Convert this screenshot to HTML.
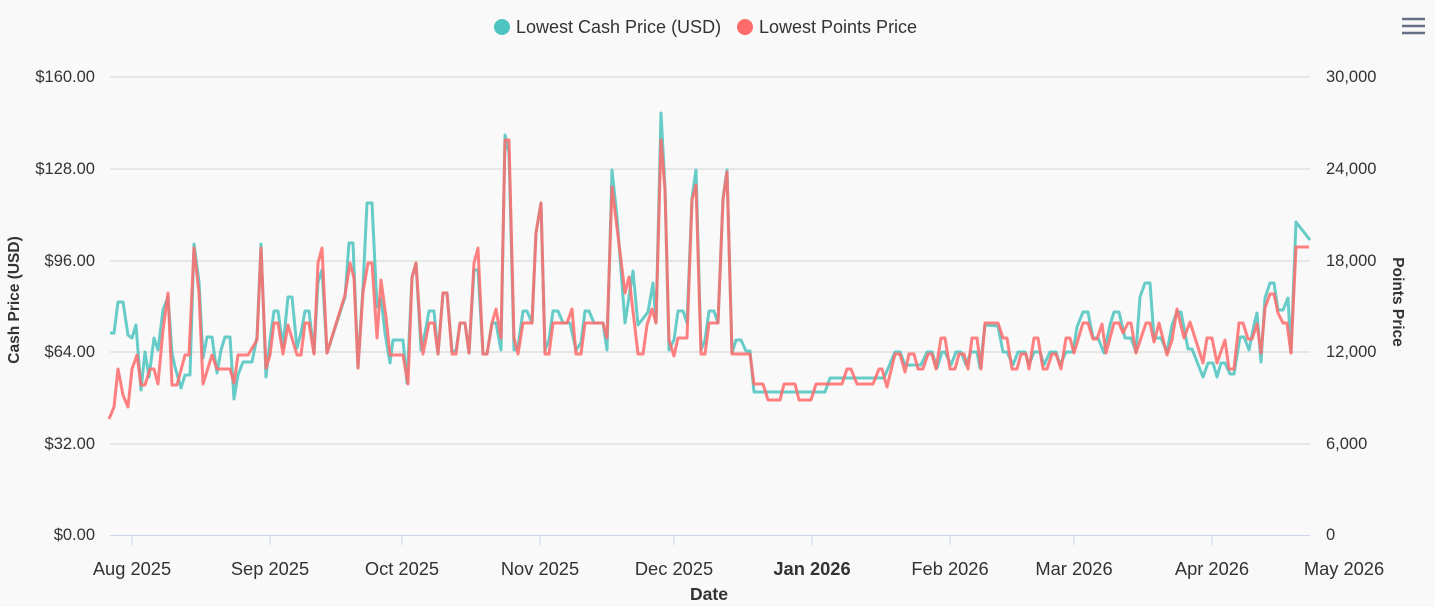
<!DOCTYPE html>
<html><head><meta charset="utf-8"><style>
html,body{margin:0;padding:0;background:#f9f9f9;}
svg{display:block;font-family:"Liberation Sans",sans-serif;}
</style></head><body>
<svg width="1435" height="607" viewBox="0 0 1435 607">
<rect width="1435" height="607" fill="#f9f9f9"/>
<g stroke="#e0e0e0" stroke-width="1.5">
<line x1="110" x2="1310" y1="77" y2="77"/><line x1="110" x2="1310" y1="169" y2="169"/>
<line x1="110" x2="1310" y1="261" y2="261"/><line x1="110" x2="1310" y1="352" y2="352"/>
<line x1="110" x2="1310" y1="444" y2="444"/>
</g>
<line x1="110" x2="1310" y1="535.5" y2="535.5" stroke="#ccd6eb" stroke-width="1"/>
<g stroke="#ccd6eb" stroke-width="1">
<line x1="132" x2="132" y1="535" y2="545"/><line x1="270" x2="270" y1="535" y2="545"/><line x1="402" x2="402" y1="535" y2="545"/><line x1="540" x2="540" y1="535" y2="545"/><line x1="674" x2="674" y1="535" y2="545"/><line x1="812" x2="812" y1="535" y2="545"/><line x1="950" x2="950" y1="535" y2="545"/><line x1="1074" x2="1074" y1="535" y2="545"/><line x1="1212" x2="1212" y1="535" y2="545"/>
</g>
<g font-size="16.5" fill="#333" text-anchor="end">
<text x="95" y="82">$160.00</text><text x="95" y="174">$128.00</text><text x="95" y="266">$96.00</text><text x="95" y="357">$64.00</text><text x="95" y="449">$32.00</text><text x="95" y="540">$0.00</text>
</g>
<g font-size="16.5" fill="#333" text-anchor="start">
<text x="1326" y="82">30,000</text><text x="1326" y="174">24,000</text><text x="1326" y="266">18,000</text><text x="1326" y="357">12,000</text><text x="1326" y="449">6,000</text><text x="1326" y="540">0</text>
</g>
<g font-size="18.3" fill="#333" text-anchor="middle">
<text x="132" y="575">Aug 2025</text><text x="270" y="575">Sep 2025</text><text x="402" y="575">Oct 2025</text><text x="540" y="575">Nov 2025</text><text x="674" y="575">Dec 2025</text><text x="812" y="575" font-weight="bold">Jan 2026</text><text x="950" y="575">Feb 2026</text><text x="1074" y="575">Mar 2026</text><text x="1212" y="575">Apr 2026</text><text x="1344" y="575">May 2026</text>
</g>
<text x="709" y="600" font-size="17.5" font-weight="bold" fill="#333" text-anchor="middle">Date</text>
<text transform="translate(19,300) rotate(-90)" font-size="15.5" font-weight="bold" fill="#333" text-anchor="middle">Cash Price (USD)</text>
<text transform="translate(1393,302) rotate(90)" font-size="15.5" font-weight="bold" fill="#333" text-anchor="middle">Points Price</text>
<circle cx="502" cy="27" r="8" fill="#4ec4c0"/>
<text x="516" y="33" font-size="18" fill="#333">Lowest Cash Price (USD)</text>
<circle cx="745" cy="27" r="8" fill="#ff6b6b"/>
<text x="759" y="33" font-size="18" fill="#333">Lowest Points Price</text>
<g stroke="#667085" stroke-width="2.5"><line x1="1402" x2="1425" y1="19" y2="19"/><line x1="1402" x2="1425" y1="26" y2="26"/><line x1="1402" x2="1425" y1="33" y2="33"/></g>
<polyline fill="none" stroke="#4ec4c0" stroke-opacity="0.85" stroke-width="3" stroke-linejoin="round" points="110,333 114,333 118,302 123,302 128,335 132,338 136,325 141,390 145,352 149,377 154,338 158,350 163,310 168,297 172,353 175,367 181,388 185,375 190,375 194,244 199,282 203,358 207,337 212,337 217,373 221,350 225,337 230,337 234,399 238,375 243,362 252,362 257,337 261,244 266,377 270,340 274,311 278,311 283,347 288,297 292,297 297,348 301,333 305,311 309,311 314,353 318,282 322,270 327,353 345,297 349,243 353,243 358,367 363,287 367,203 372,203 377,307 381,298 385,333 390,363 393,340 403,340 407,383 412,277 416,263 421,350 425,333 429,311 434,311 438,354 443,293 447,293 452,351 456,351 460,323 465,323 469,353 474,270 478,270 483,354 487,354 492,323 496,323 501,350 505,135 509,153 514,350 518,347 523,311 527,311 532,323 536,233 541,203 545,350 549,340 553,311 558,311 563,323 570,323 576,350 581,343 585,311 589,311 594,323 603,323 607,350 612,170 617,217 625,323 633,271 638,325 648,312 653,283 656,323 661,113 665,187 669,350 674,340 678,311 683,311 687,323 692,198 696,170 701,350 705,340 709,311 714,311 718,323 723,198 727,170 732,353 736,340 741,340 746,351 750,351 754,392 825,392 830,378 884,378 895,352 900,352 905,365 921,365 927,352 932,352 937,368 942,352 945,352 951,365 956,352 961,352 966,365 971,352 977,352 980,368 985,325 998,326 1003,352 1007,352 1013,365 1018,352 1025,352 1029,365 1034,352 1040,352 1044,365 1050,352 1056,352 1060,365 1066,352 1073,352 1077,327 1083,312 1088,312 1093,338 1098,338 1104,353 1110,325 1114,312 1119,312 1125,338 1131,338 1136,352 1140,297 1145,283 1150,283 1154,338 1161,338 1167,352 1172,325 1177,312 1181,312 1188,349 1192,349 1203,377 1208,363 1213,363 1217,377 1221,363 1225,363 1230,374 1234,374 1240,337 1244,337 1249,350 1254,325 1257,313 1261,362 1265,298 1270,283 1274,283 1278,310 1283,310 1288,298 1291,352 1296,222 1310,240"/>
<polyline fill="none" stroke="#ff6b6b" stroke-opacity="0.85" stroke-width="3" stroke-linejoin="round" points="109,419 114,407 118,369 123,395 128,407 132,369 137,355 141,385 145,385 150,369 154,369 158,384 163,330 168,293 172,385 177,385 185,355 189,355 194,248 199,293 203,384 212,355 217,369 230,369 234,383 238,355 248,355 257,340 261,248 266,368 270,355 274,323 278,323 283,354 288,325 297,355 301,355 305,323 309,323 314,354 318,263 322,248 327,353 345,295 350,263 354,278 358,368 363,292 368,263 372,263 377,338 381,280 386,317 390,355 403,355 408,384 412,278 416,263 421,338 423,354 429,323 434,323 438,354 443,293 447,293 452,354 456,354 460,323 465,323 469,353 474,263 478,248 483,354 487,354 492,323 496,309 501,338 505,140 509,140 514,338 518,354 523,323 532,323 536,233 541,203 545,354 549,354 553,323 567,323 572,309 576,354 581,354 585,323 603,323 607,338 612,187 625,293 629,277 638,354 643,354 647,325 652,309 656,323 661,140 665,190 669,340 674,356 678,338 687,338 692,200 696,185 701,354 705,354 709,323 718,323 723,200 727,172 732,354 750,354 754,384 763,384 768,400 780,400 784,384 795,384 799,400 811,400 816,384 842,384 847,369 851,369 857,384 873,384 879,369 882,369 887,387 895,354 900,354 905,372 909,354 914,354 918,369 923,369 928,354 932,354 936,369 941,338 945,338 950,369 955,369 959,354 964,354 968,369 972,338 977,338 981,369 985,323 998,323 1003,338 1007,338 1012,369 1017,369 1021,354 1026,354 1029,369 1034,338 1038,338 1043,369 1047,369 1052,354 1056,354 1061,369 1066,338 1070,338 1074,353 1083,323 1088,323 1093,339 1097,339 1102,324 1106,353 1114,323 1119,323 1123,333 1128,323 1131,323 1136,353 1146,323 1150,323 1154,342 1159,323 1167,355 1172,340 1177,309 1184,338 1190,322 1203,363 1207,338 1212,338 1217,363 1225,340 1229,369 1234,369 1239,323 1243,323 1248,339 1252,339 1257,324 1261,353 1265,308 1270,294 1274,294 1278,313 1283,323 1287,323 1291,353 1296,247 1309,247"/>
</svg>
</body></html>
